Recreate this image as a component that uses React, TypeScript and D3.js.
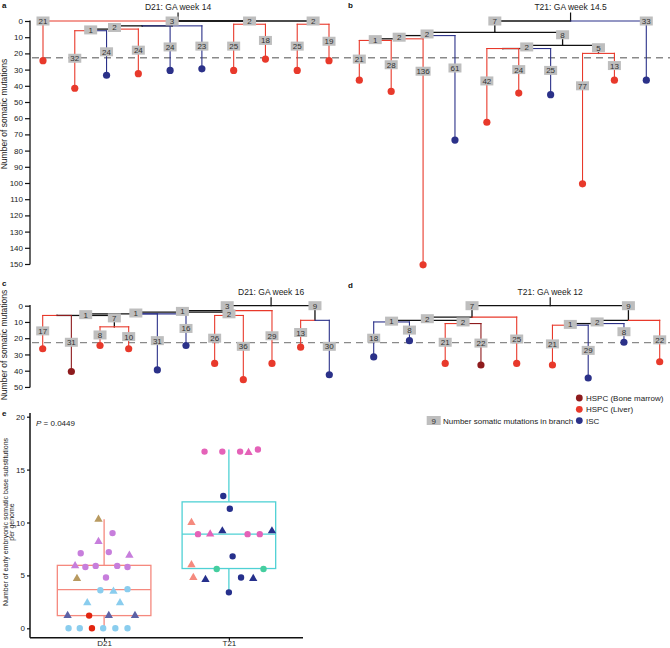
import React, { useEffect, useRef } from 'react';
import * as d3 from 'd3';

type Row = [string, string, number, string];

// tree rows: [node id, parent id, somatic mutations in branch, sample type]
// L = HSPC (Liver), B = HSPC (Bone marrow), I = ISC
const treeD21w14: Row[] = [
  ['r', '', 0, ''],
  ['a21', 'r', 21, 'L'],
  ['n3', 'r', 3, ''],
  ['n3x', 'n3', 0, ''],
  ['n2', 'n3x', 2, ''],
  ['n1', 'n2', 1, ''],
  ['a32', 'n1', 32, 'L'],
  ['a24i', 'n1', 24, 'I'],
  ['a24l', 'n2', 24, 'L'],
  ['a24j', 'n3x', 24, 'I'],
  ['a23', 'n3', 23, 'I'],
  ['n2b', 'r', 2, ''],
  ['a25', 'n2b', 25, 'L'],
  ['a18', 'n2b', 18, 'L'],
  ['n2c', 'r', 2, ''],
  ['a25b', 'n2c', 25, 'L'],
  ['a19', 'n2c', 19, 'L'],
];

const treeT21w145: Row[] = [
  ['r', '', 0, ''],
  ['n7', 'r', 7, ''],
  ['n2a', 'n7', 2, ''],
  ['n2b', 'n2a', 2, ''],
  ['n1', 'n2b', 1, ''],
  ['b21', 'n1', 21, 'L'],
  ['b28', 'n1', 28, 'L'],
  ['b136', 'n2b', 136, 'L'],
  ['b61', 'n2a', 61, 'I'],
  ['n8', 'n7', 8, ''],
  ['n2c', 'n8', 2, ''],
  ['n0', 'n2c', 0, ''],
  ['b42', 'n0', 42, 'L'],
  ['b24', 'n0', 24, 'L'],
  ['b25', 'n2c', 25, 'I'],
  ['n5', 'n8', 5, ''],
  ['b77', 'n5', 77, 'L'],
  ['b13', 'n5', 13, 'L'],
  ['b33', 'r', 33, 'I'],
];

const treeD21w16: Row[] = [
  ['r', '', 0, ''],
  ['n3', 'r', 3, ''],
  ['n1c', 'n3', 1, ''],
  ['n1b', 'n1c', 1, ''],
  ['n1a', 'n1b', 1, ''],
  ['n0', 'n1a', 0, ''],
  ['c17', 'n0', 17, 'L'],
  ['c31b', 'n0', 31, 'B'],
  ['n7', 'n1a', 7, ''],
  ['c8', 'n7', 8, 'L'],
  ['c10', 'n7', 10, 'L'],
  ['c31', 'n1b', 31, 'I'],
  ['c16', 'n1b', 16, 'I'],
  ['n2', 'n1c', 2, ''],
  ['c26', 'n2', 26, 'L'],
  ['c36', 'n2', 36, 'L'],
  ['c29', 'n3', 29, 'L'],
  ['n9', 'r', 9, ''],
  ['c13', 'n9', 13, 'L'],
  ['c30', 'n9', 30, 'I'],
];

const treeT21w12: Row[] = [
  ['r', '', 0, ''],
  ['n7', 'r', 7, ''],
  ['n2a', 'n7', 2, ''],
  ['n1', 'n2a', 1, ''],
  ['d18', 'n1', 18, 'I'],
  ['d8', 'n1', 8, 'I'],
  ['n2b', 'n2a', 2, ''],
  ['d21', 'n2b', 21, 'L'],
  ['d22', 'n2b', 22, 'B'],
  ['d25', 'n7', 25, 'L'],
  ['n9', 'r', 9, ''],
  ['n2c', 'n9', 2, ''],
  ['n1b', 'n2c', 1, ''],
  ['d21b', 'n1b', 21, 'L'],
  ['d29', 'n1b', 29, 'I'],
  ['d8b', 'n2c', 8, 'I'],
  ['d22b', 'n9', 22, 'L'],
];

const treeTitles = ['D21: GA week 14', 'T21: GA week 14.5', 'D21: GA week 16', 'T21: GA week 12'];
const dashedLevel = 22.7;

const legendLabels = ['HSPC (Bone marrow)', 'HSPC (Liver)', 'ISC'];
const legendTypes = ['B', 'L', 'I'];

// panel e
const eCategories = ['D21', 'T21'];
const boxLow = [0, 3.45];
const boxQ1 = [1.2, 5.65];
const boxMedian = [3.65, 8.9];
const boxQ3 = [5.95, 11.95];
const boxHigh = [10.3, 16.9];

const d21Values = [0, 0, 0, 0, 0, 0, 1.2, 1.2, 1.2, 1.2, 2.4, 2.4, 3.6, 3.5, 3.7, 4.7, 4.8, 5.9, 5.8, 5.9, 5.9, 5.8, 6.9, 7.1, 7.2, 8.2, 9.0, 10.3];
const d21Jitter = [-0.38, -0.26, -0.13, -0.01, 0.12, 0.25, -0.39, -0.16, 0.05, 0.33, -0.18, 0.17, -0.04, 0.1, 0.25, -0.29, 0.02, -0.31, -0.2, -0.09, 0.14, 0.25, 0.27, -0.25, 0.05, -0.06, 0.09, -0.06];
const d21Sample = ['lb', 'lb', 'rd', 'lb', 'lb', 'lb', 'sl', 'rd', 'sl', 'sl', 'lb', 'lb', 'lb', 'lb', 'lb', 'tan', 'pu', 'pu', 'pu', 'pu', 'pu', 'pu', 'pu', 'pu', 'pu', 'pu', 'pu', 'tan'];
const d21Shape = ['c', 'c', 'c', 'c', 'c', 'c', 't', 'c', 't', 't', 't', 't', 'c', 't', 'c', 't', 'c', 't', 'c', 'c', 'c', 'c', 't', 'c', 'c', 't', 'c', 't'];

const t21Values = [16.7, 16.7, 16.7, 16.6, 16.9, 12.5, 11.3, 10.0, 9.2, 9.2, 8.9, 8.9, 8.9, 8.9, 6.8, 6.0, 5.6, 5.6, 4.8, 4.6, 4.8, 4.7, 3.4];
const t21Jitter = [-0.26, -0.07, 0.12, 0.21, 0.31, -0.06, 0.01, -0.4, -0.07, 0.46, -0.33, -0.2, 0.2, 0.33, 0.04, -0.4, -0.13, 0.37, -0.38, -0.25, 0.13, 0.26, 0.0];
const t21Sample = ['pk', 'pk', 'pk', 'pk', 'pk', 'nv', 'nv', 'sa', 'nv', 'nv', 'pk', 'pk', 'pk', 'pk', 'nv', 'sa', 'tl', 'tl', 'sa', 'nv', 'nv', 'nv', 'nv'];
const t21Shape = ['c', 'c', 'c', 't', 'c', 'c', 'c', 't', 't', 't', 'c', 't', 'c', 'c', 'c', 't', 'c', 'c', 't', 't', 'c', 't', 'c'];

const FONT = '"Liberation Sans", Arial, Helvetica, sans-serif';
const typeColor: any = { L: '#E8392B', B: '#8E1B1D', I: '#2B3189' };
const sampleColor: any = {
  lb: '#8ACDEE', rd: '#E2250F', sl: '#5D62A6', tan: '#B89A60', pu: '#C77EDC',
  pk: '#E462B8', nv: '#26308C', sa: '#F58A7E', tl: '#45CE9F',
};
const BLACK = '#111';
const TIP = 3.5;

const yTop = d3.scaleLinear().domain([0, 150]).range([21, 264]);
const yBottom = d3.scaleLinear().domain([0, 50]).range([305.7, 386.95]);
const yE = d3.scaleLinear().domain([0, 20]).range([628.3, 416.7]);
const xE = d3.scalePoint().domain(eCategories).range([30, 303]).padding(0.594);

const layoutTree = (rows: Row[], x0: number, x1: number) => {
  const root: any = d3.stratify<Row>().id((d) => d[0]).parentId((d) => d[1] || null)(rows);
  root.eachBefore((n: any) => {
    n.dm = n.parent ? n.parent.dm + n.data[2] : 0;
  });
  const xs = d3.scalePoint().domain(root.leaves().map((l: any) => l.id)).range([x0, x1]);
  root.eachAfter((n: any) => {
    n.xp = n.children ? (n.children[0].xp + n.children[n.children.length - 1].xp) / 2 : xs(n.id);
  });
  return root;
};

const Tree = ({ rows, title, x0, x1, y }: any) => {
  const root = layoutTree(rows, x0, x1);
  const nodes = root.descendants();
  const horiz: any[] = [];
  nodes.forEach((n: any) => {
    if (!n.children) return;
    n.children.forEach((c: any) => {
      horiz.push({ x1: n.xp, x2: c.xp, y: y(n.dm), color: c.children ? BLACK : typeColor[c.data[3]] });
    });
  });
  const vert = nodes
    .filter((n: any) => n.parent)
    .map((n: any) => ({
      x: n.xp,
      y1: y(n.parent.dm),
      y2: y(n.dm + (n.children ? 0 : TIP)),
      color: n.children ? BLACK : typeColor[n.data[3]],
    }));
  const lines = [
    ...horiz.map((h) => ({ x1: h.x1, x2: h.x2, y1: h.y, y2: h.y, color: h.color })),
    ...vert.map((v: any) => ({ x1: v.x, x2: v.x, y1: v.y1, y2: v.y2, color: v.color })),
  ].sort((a, b) => (a.color === BLACK ? 0 : 1) - (b.color === BLACK ? 0 : 1));
  const leaves = root.leaves();
  // branch boxes: on the root line for root branches, otherwise just under the parent split
  const labels = nodes
    .filter((n: any) => n.parent && (n.data[2] > 0 || !n.children))
    .map((n: any) => {
      let d;
      if (!n.parent.parent) d = 0;
      else if (n.children) d = n.parent.dm + Math.min(n.data[2] / 2, 1.5);
      else d = n.parent.dm + Math.min(n.data[2] / 2 + 1, 20);
      return { x: n.xp, y: y(d), text: String(n.data[2]) };
    });
  const y0 = y(0);
  return (
    <g>
      <text x={root.xp} y={y0 - 11} textAnchor='middle' fontSize={8.5} fill='#222'>{title}</text>
      <line x1={root.xp} x2={root.xp} y1={y0 - 8.5} y2={y0} stroke={BLACK} strokeWidth={1.2} />
      {lines.map((l, i) => (
        <line key={i} x1={l.x1} x2={l.x2} y1={l.y1} y2={l.y2} stroke={l.color}
          strokeWidth={l.color === BLACK ? 1.3 : 1.1} strokeLinecap='square' />
      ))}
      {leaves.map((n: any) => (
        <circle key={n.id} cx={n.xp} cy={y(n.dm + TIP)} r={3.6} fill={typeColor[n.data[3]]} />
      ))}
      {labels.map((b: any, i: number) => {
        const w = b.text.length > 2 ? 15 : 13;
        return (
          <g key={i}>
            <rect x={b.x - w / 2} y={b.y - 4.5} width={w} height={9} fill='#BEBEBE' />
            <text x={b.x} y={b.y + 3} textAnchor='middle' fontSize={8} fill='#333'>{b.text}</text>
          </g>
        );
      })}
    </g>
  );
};

const AxisLeft = ({ scale, x, tickValues, size }: any) => {
  const ref = useRef<SVGGElement>(null);
  useEffect(() => {
    const g = d3.select(ref.current as SVGGElement);
    g.call(d3.axisLeft(scale).tickValues(tickValues).tickSize(size).tickPadding(2) as any);
    g.select('.domain').remove();
    g.attr('font-size', 8).attr('font-family', FONT);
    g.selectAll('line').attr('stroke', BLACK).attr('stroke-width', 1.2);
    g.selectAll('text').attr('fill', '#222');
  }, [scale, tickValues, size]);
  return <g ref={ref} transform={`translate(${x},0)`} />;
};

const AxisBottom = ({ scale, y }: any) => {
  const ref = useRef<SVGGElement>(null);
  useEffect(() => {
    const g = d3.select(ref.current as SVGGElement);
    g.call(d3.axisBottom(scale).tickSize(3).tickPadding(0) as any);
    g.select('.domain').remove();
    g.attr('font-size', 8).attr('font-family', FONT);
    g.selectAll('line').attr('stroke', BLACK).attr('stroke-width', 1.2);
    g.selectAll('text').attr('fill', '#222').attr('dy', '0.62em');
  }, [scale]);
  return <g ref={ref} transform={`translate(0,${y})`} />;
};

const Points = ({ cat, values, jitter, sample, shape, boxW }: any) => {
  const cx = xE(cat) as number;
  return (
    <g>
      {values.map((v: number, i: number) => {
        const sym = d3.symbol().type(shape[i] === 't' ? d3.symbolTriangle : d3.symbolCircle).size(shape[i] === 't' ? 30 : 32);
        return (
          <path key={i} d={sym() as string} fill={sampleColor[sample[i]]}
            transform={`translate(${cx + jitter[i] * boxW},${yE(v)})`} />
        );
      })}
    </g>
  );
};

const App = () => {
  const boxW = xE.step() * 0.75;
  const boxColors = ['#F5897E', '#4FD1D4'];
  const rowTitle = 'Number of somatic mutations';
  return (
    <svg width={670} height={648} style={{ position: 'absolute', left: 0, top: 0, display: 'block' }}
      fontFamily={FONT}>
      <rect width={670} height={648} fill='#fff' />
      {/* panel letters */}
      <g fontWeight='bold' fontSize={8} fill='#111'>
        <text x={2} y={8}>a</text>
        <text x={348} y={8}>b</text>
        <text x={2} y={286}>c</text>
        <text x={348} y={288}>d</text>
        <text x={2} y={416}>e</text>
      </g>

      {/* dashed reference lines */}
      <line x1={32} x2={670} y1={yTop(dashedLevel)} y2={yTop(dashedLevel)} stroke='#8A8A8A' strokeWidth={1.3} strokeDasharray='7,5' />
      <line x1={32} x2={670} y1={yBottom(dashedLevel)} y2={yBottom(dashedLevel)} stroke='#8A8A8A' strokeWidth={1.3} strokeDasharray='7,5' />

      {/* row axes */}
      <line x1={30} x2={30} y1={yTop(0) - 0.6} y2={yTop(150) + 0.6} stroke={BLACK} strokeWidth={1.3} />
      <AxisLeft scale={yTop} x={30} tickValues={yTop.ticks(15)} size={5} />
      <text transform={`translate(7,114) rotate(-90)`} textAnchor='middle' fontSize={8.5} fill='#222'>{rowTitle}</text>
      <line x1={30} x2={30} y1={yBottom(0) - 0.6} y2={yBottom(50) + 0.6} stroke={BLACK} strokeWidth={1.3} />
      <AxisLeft scale={yBottom} x={30} tickValues={yBottom.ticks(5)} size={5} />
      <text transform={`translate(7,345) rotate(-90)`} textAnchor='middle' fontSize={8.5} fill='#222'>{rowTitle}</text>

      <Tree rows={treeD21w14} title={treeTitles[0]} x0={43} x1={329} y={yTop} />
      <Tree rows={treeT21w145} title={treeTitles[1]} x0={359.3} x1={646.3} y={yTop} />
      <Tree rows={treeD21w16} title={treeTitles[2]} x0={42.7} x1={329.3} y={yBottom} />
      <Tree rows={treeT21w12} title={treeTitles[3]} x0={373.7} x1={659.7} y={yBottom} />

      {/* legend */}
      <g fontSize={8} fill='#222'>
        {legendLabels.map((l, i) => (
          <g key={l}>
            <circle cx={579.3} cy={398 + i * 11.3} r={3.4} fill={typeColor[legendTypes[i]]} />
            <text x={586} y={401 + i * 11.3}>{l}</text>
          </g>
        ))}
        <rect x={426.7} y={416} width={14} height={9} fill='#BEBEBE' />
        <text x={433.7} y={423.6} textAnchor='middle' fill='#333'>9</text>
        <text x={443} y={423.8}>Number somatic mutations in branch</text>
      </g>

      {/* panel e */}
      <text x={36} y={425.5} fontSize={8} fill='#222'>
        <tspan fontStyle='italic'>P</tspan> = 0.0449
      </text>
      <text transform='translate(7.5,522) rotate(-90)' textAnchor='middle' fontSize={7} fill='#222'>
        <tspan x={0} dy={0}>Number of early embryonic somatic base substitutions</tspan>
        <tspan x={0} dy={6.6}>per genome</tspan>
      </text>
      {eCategories.map((c, i) => {
        const cx = xE(c) as number;
        return (
          <g key={c} stroke={boxColors[i]} strokeWidth={1.3} fill='none'>
            <line x1={cx} x2={cx} y1={yE(boxLow[i])} y2={yE(boxQ1[i])} />
            <line x1={cx} x2={cx} y1={yE(boxQ3[i])} y2={yE(boxHigh[i])} />
            <rect x={cx - boxW / 2} y={yE(boxQ3[i])} width={boxW} height={yE(boxQ1[i]) - yE(boxQ3[i])} />
            <line x1={cx - boxW / 2} x2={cx + boxW / 2} y1={yE(boxMedian[i])} y2={yE(boxMedian[i])} />
          </g>
        );
      })}
      <Points cat='D21' values={d21Values} jitter={d21Jitter} sample={d21Sample} shape={d21Shape} boxW={boxW} />
      <Points cat='T21' values={t21Values} jitter={t21Jitter} sample={t21Sample} shape={t21Shape} boxW={boxW} />
      <line x1={30} x2={30} y1={413} y2={637.7} stroke={BLACK} strokeWidth={1.5} />
      <line x1={30} x2={303} y1={637.7} y2={637.7} stroke={BLACK} strokeWidth={1.5} />
      <AxisLeft scale={yE} x={30} tickValues={[0, 5, 10, 15, 20]} size={3} />
      <AxisBottom scale={xE} y={637.7} />
    </svg>
  );
};

export default App;
